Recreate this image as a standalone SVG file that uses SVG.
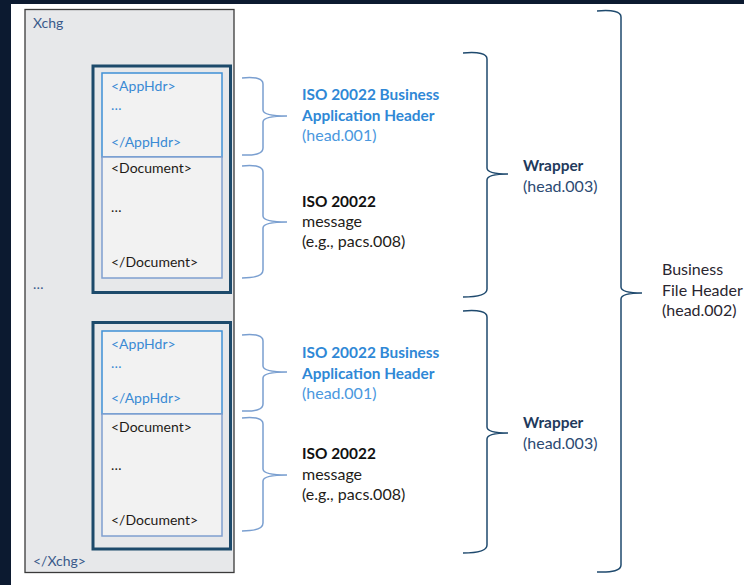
<svg xmlns="http://www.w3.org/2000/svg" width="744" height="585" viewBox="0 0 744 585">
<style>
text{font-family:Lato,"Open Sans","Liberation Sans",sans-serif;}
.sm{font-size:14px;}
.blue{fill:#3a8ad4;}
.dk{fill:#1e1a16;}
.hd{font-size:16px;}
.b{font-weight:bold;font-size:15.4px;}
.wrap{fill:none;stroke:#1d4a6b;stroke-width:3;}
.app{fill:#f2f2f2;stroke:#3f90d6;stroke-width:1.5;}
.doc{fill:#f2f2f2;stroke:#7f9fcf;stroke-width:1.5;}
.br1{fill:none;stroke:#7a9fd0;stroke-width:1.5;}
.br2{fill:none;stroke:#1f4a6e;stroke-width:1.5;}
</style>
<rect x="0" y="0" width="744" height="585" fill="#0c1a30"/>
<rect x="11" y="4" width="733" height="581" fill="#ffffff"/>
<g id="xchg">
<rect x="25" y="9.5" width="209" height="563" fill="#e7e8ea" stroke="#3a3a3a" stroke-width="1.3"/>
<text x="33" y="28" class="sm" fill="#3a5a8a">Xchg</text>
<text x="33" y="289" class="sm" fill="#3a5a8a">…</text>
<text x="33" y="566" class="sm" fill="#3a5a8a">&lt;/Xchg&gt;</text>
</g>
<g id="wrapper1">
<rect x="93" y="66" width="137.5" height="226.5" fill="#f2f2f2" class="wrap"/>
<rect x="102" y="73" width="120" height="84" class="app"/>
<rect x="102" y="157" width="120" height="121" class="doc"/>
<text x="111" y="91" class="sm blue">&lt;AppHdr&gt;</text>
<text x="111" y="110" class="sm blue">…</text>
<text x="111" y="147" class="sm blue">&lt;/AppHdr&gt;</text>
<text x="111" y="173" class="sm dk">&lt;Document&gt;</text>
<text x="111" y="212" class="sm dk">…</text>
<text x="111" y="267" class="sm dk">&lt;/Document&gt;</text>
</g>
<g id="wrapper2">
<rect x="93" y="322.5" width="137.5" height="226.5" fill="#f2f2f2" class="wrap"/>
<rect x="102" y="331" width="120" height="83" class="app"/>
<rect x="102" y="414" width="120" height="122" class="doc"/>
<text x="111" y="349" class="sm blue">&lt;AppHdr&gt;</text>
<text x="111" y="368" class="sm blue">…</text>
<text x="111" y="403" class="sm blue">&lt;/AppHdr&gt;</text>
<text x="111" y="432" class="sm dk">&lt;Document&gt;</text>
<text x="111" y="470" class="sm dk">…</text>
<text x="111" y="525" class="sm dk">&lt;/Document&gt;</text>
</g>
<g id="connectors">
<path class="br1" d="M242,78 Q263,76 263,84 L263,110 Q263,116 287,116 Q263,116 263,122 L263,148 Q263,156 242,155"/>
<path class="br1" d="M242,166 Q263,164 263,172 L263,216 Q263,222 287,222 Q263,222 263,228 L263,270 Q263,278 242,278"/>
<path class="br1" d="M242,335 Q263,333 263,341 L263,366 Q263,372 287,372 Q263,372 263,378 L263,404 Q263,412 242,411"/>
<path class="br1" d="M242,418 Q263,416 263,424 L263,469 Q263,475 287,475 Q263,475 263,481 L263,523 Q263,531 242,531"/>
<path class="br2" d="M463,53 Q487,51 487,59 L487,168 Q487,174 508,174 Q487,174 487,180 L487,289 Q487,297 463,297"/>
<path class="br2" d="M463,311 Q487,309 487,317 L487,427 Q487,433 508,433 Q487,433 487,439 L487,545 Q487,553 463,553"/>
<path class="br2" d="M597,11 Q621,9 621,17 L621,287 Q621,293 642,293 Q621,293 621,299 L621,565 Q621,573 597,572"/>
</g>
<g id="label-bah1">
<text x="302" y="100" class="hd b" fill="#2f88d6">ISO 20022 Business</text>
<text x="302" y="121" class="hd b" fill="#2f88d6">Application Header</text>
<text x="302" y="141" class="hd" fill="#4a98de">(head.001)</text>
</g>
<g id="label-msg1">
<text x="302" y="207" class="hd b" fill="#111">ISO 20022</text>
<text x="302" y="227" class="hd" fill="#231c18">message</text>
<text x="302" y="247" class="hd" fill="#231c18">(e.g., pacs.008)</text>
</g>
<g id="label-bah2">
<text x="302" y="358" class="hd b" fill="#2f88d6">ISO 20022 Business</text>
<text x="302" y="379" class="hd b" fill="#2f88d6">Application Header</text>
<text x="302" y="399" class="hd" fill="#4a98de">(head.001)</text>
</g>
<g id="label-msg2">
<text x="302" y="459" class="hd b" fill="#111">ISO 20022</text>
<text x="302" y="480" class="hd" fill="#231c18">message</text>
<text x="302" y="500" class="hd" fill="#231c18">(e.g., pacs.008)</text>
</g>
<g id="label-wrapper1">
<text x="523" y="171" class="hd b" fill="#1f3a5c">Wrapper</text>
<text x="523" y="192" class="hd" fill="#2c4a72">(head.003)</text>
</g>
<g id="label-wrapper2">
<text x="523" y="428" class="hd b" fill="#1f3a5c">Wrapper</text>
<text x="523" y="449" class="hd" fill="#2c4a72">(head.003)</text>
</g>
<g id="label-bfh">
<text x="662" y="275" class="hd" fill="#2a2630">Business</text>
<text x="662" y="296" class="hd" fill="#2a2630">File Header</text>
<text x="662" y="316" class="hd" fill="#2a2630">(head.002)</text>
</g>
</svg>
